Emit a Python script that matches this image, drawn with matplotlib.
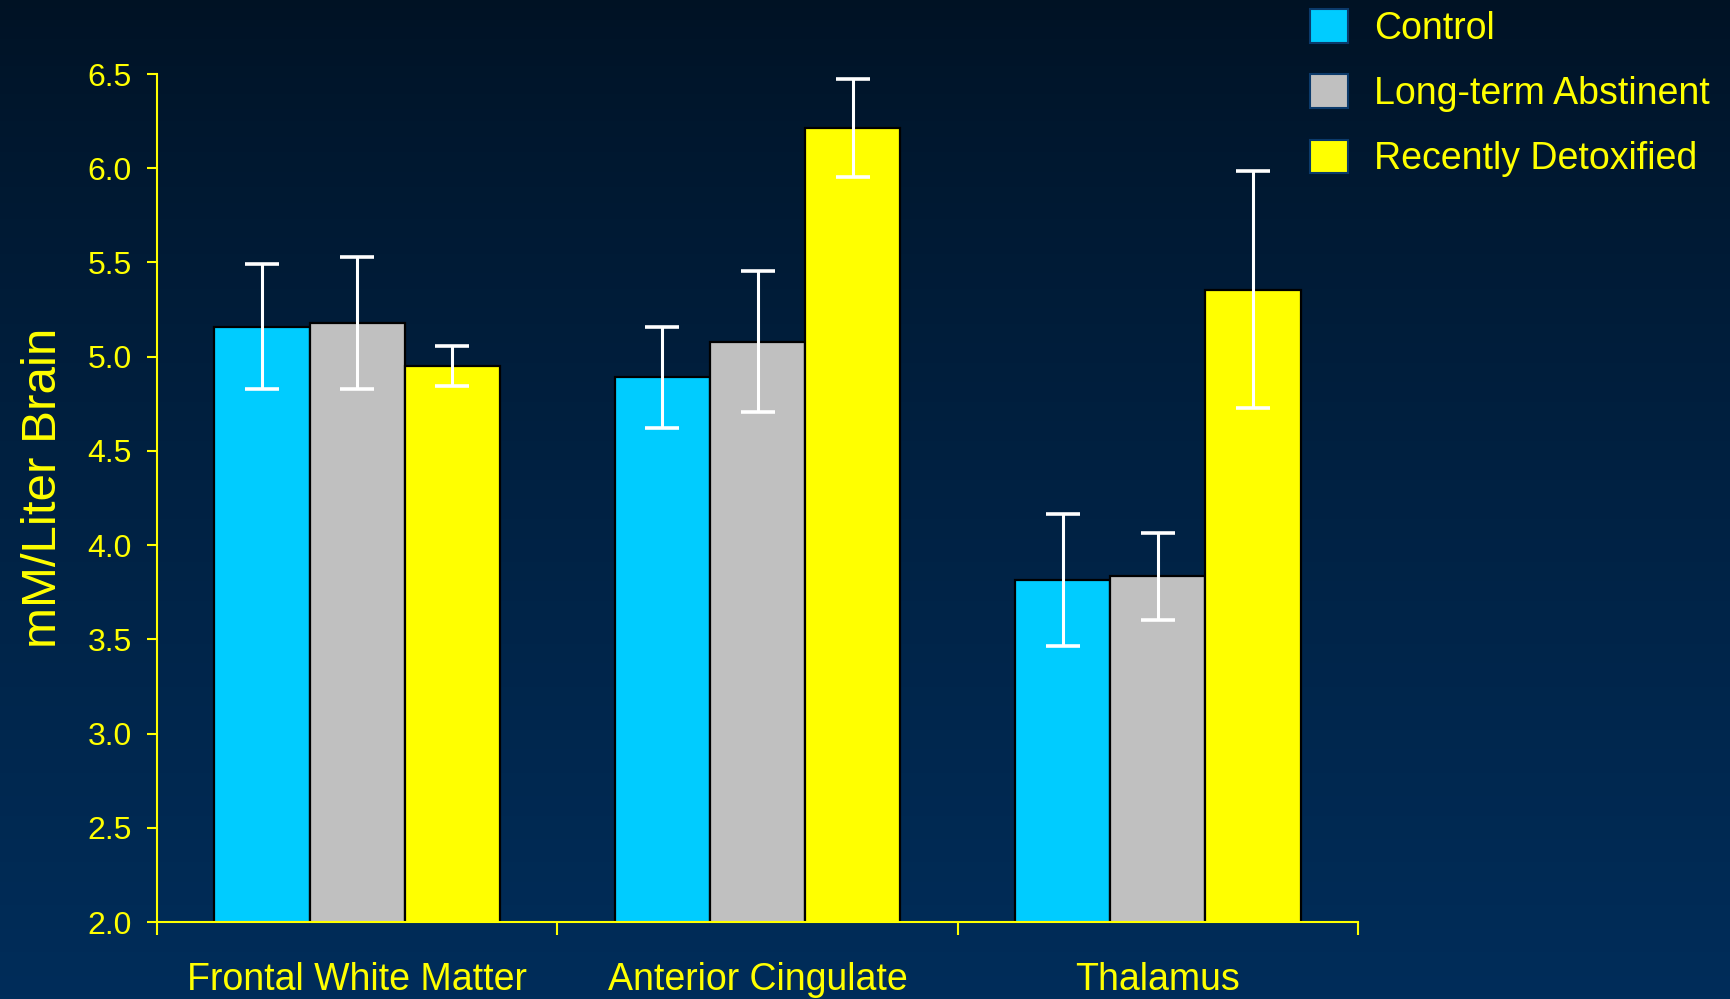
# Grouped bar chart: mM/Liter Brain by region and group
import matplotlib
matplotlib.use('Agg')
import matplotlib.pyplot as plt
from matplotlib.patches import Patch
import numpy as np

# data
categories = ['Frontal White Matter', 'Anterior Cingulate', 'Thalamus']
groups = ['Control', 'Long-term Abstinent', 'Recently Detoxified']
control = [5.16, 4.89, 3.815]
control_err = [0.33, 0.27, 0.35]
abstinent = [5.18, 5.08, 3.835]
abstinent_err = [0.35, 0.375, 0.23]
detox = [4.95, 6.215, 5.355]
detox_err = [0.105, 0.26, 0.63]
yticks = [2.0, 2.5, 3.0, 3.5, 4.0, 4.5, 5.0, 5.5, 6.0, 6.5]

colors = ['#00CCFF', '#C0C0C0', '#FFFF00']
yellow = '#FFFF00'
plt.rcParams['font.family'] = ['Liberation Sans', 'DejaVu Sans']

fig = plt.figure(figsize=(17.3, 9.99), dpi=100)

# background gradient (dark navy at top, lighter navy at bottom)
bg = fig.add_axes([0, 0, 1, 1], zorder=-10)
top = np.array([0, 18, 36]) / 255.0
bot = np.array([0, 45, 90]) / 255.0
t = np.linspace(0, 1, 256) ** 0.8
grad = (top[None, :] * (1 - t[:, None]) + bot[None, :] * t[:, None])[:, None, :]
bg.imshow(grad, aspect='auto', extent=[0, 1, 0, 1], origin='upper')
bg.axis('off')

ax = fig.add_axes([157 / 1730, 1 - 922 / 999, 1201 / 1730, 848 / 999])
ax.set_facecolor('none')

x = np.arange(len(categories))
w = 0.238
series = [(control, control_err), (abstinent, abstinent_err), (detox, detox_err)]
for i, (vals, errs) in enumerate(series):
    pos = x + (i - 1) * w
    ax.bar(pos, vals, w, color=colors[i], edgecolor='black', linewidth=1.6, zorder=2)
    ax.errorbar(pos, vals, yerr=errs, fmt='none', ecolor='white',
                elinewidth=2.2, capsize=12.5, capthick=2.6, zorder=3)

ax.set_xlim(-0.5, 2.5)
ax.set_ylim(2.0, 6.5)
ax.set_yticks(yticks)
ax.set_yticklabels(['%.1f' % v for v in yticks])

# category boundaries as major ticks, names on minor ticks
ax.set_xticks([-0.5, 0.5, 1.5, 2.5])
ax.set_xticklabels([])
ax.set_xticks(x, minor=True)
ax.set_xticklabels(categories, minor=True)

for s in ['top', 'right']:
    ax.spines[s].set_visible(False)
for s in ['left', 'bottom']:
    ax.spines[s].set_color(yellow)
    ax.spines[s].set_linewidth(1.5)

ax.tick_params(axis='y', colors=yellow, labelsize=23, length=7.5, width=1.5, pad=10.5)
ax.tick_params(axis='x', which='major', colors=yellow, length=9.5, width=1.5)
ax.tick_params(axis='x', which='minor', colors=yellow, length=0, labelsize=27, pad=29)

ax.set_ylabel('mM/Liter Brain', fontsize=35.5, color=yellow)
ax.yaxis.set_label_coords(-0.076, 0.512)

handles = [Patch(facecolor=c, edgecolor='#0b3a6b', linewidth=1.5) for c in colors]
leg = fig.legend(handles, groups, loc='upper left', bbox_to_anchor=(1310 / 1730, 1 - 9 / 999),
                 frameon=False, fontsize=27, handlelength=1.0, handleheight=1.0,
                 handletextpad=0.72, labelspacing=0.74, borderpad=0, borderaxespad=0)
for txt in leg.get_texts():
    txt.set_color(yellow)

fig.savefig('out.png', dpi=100)
